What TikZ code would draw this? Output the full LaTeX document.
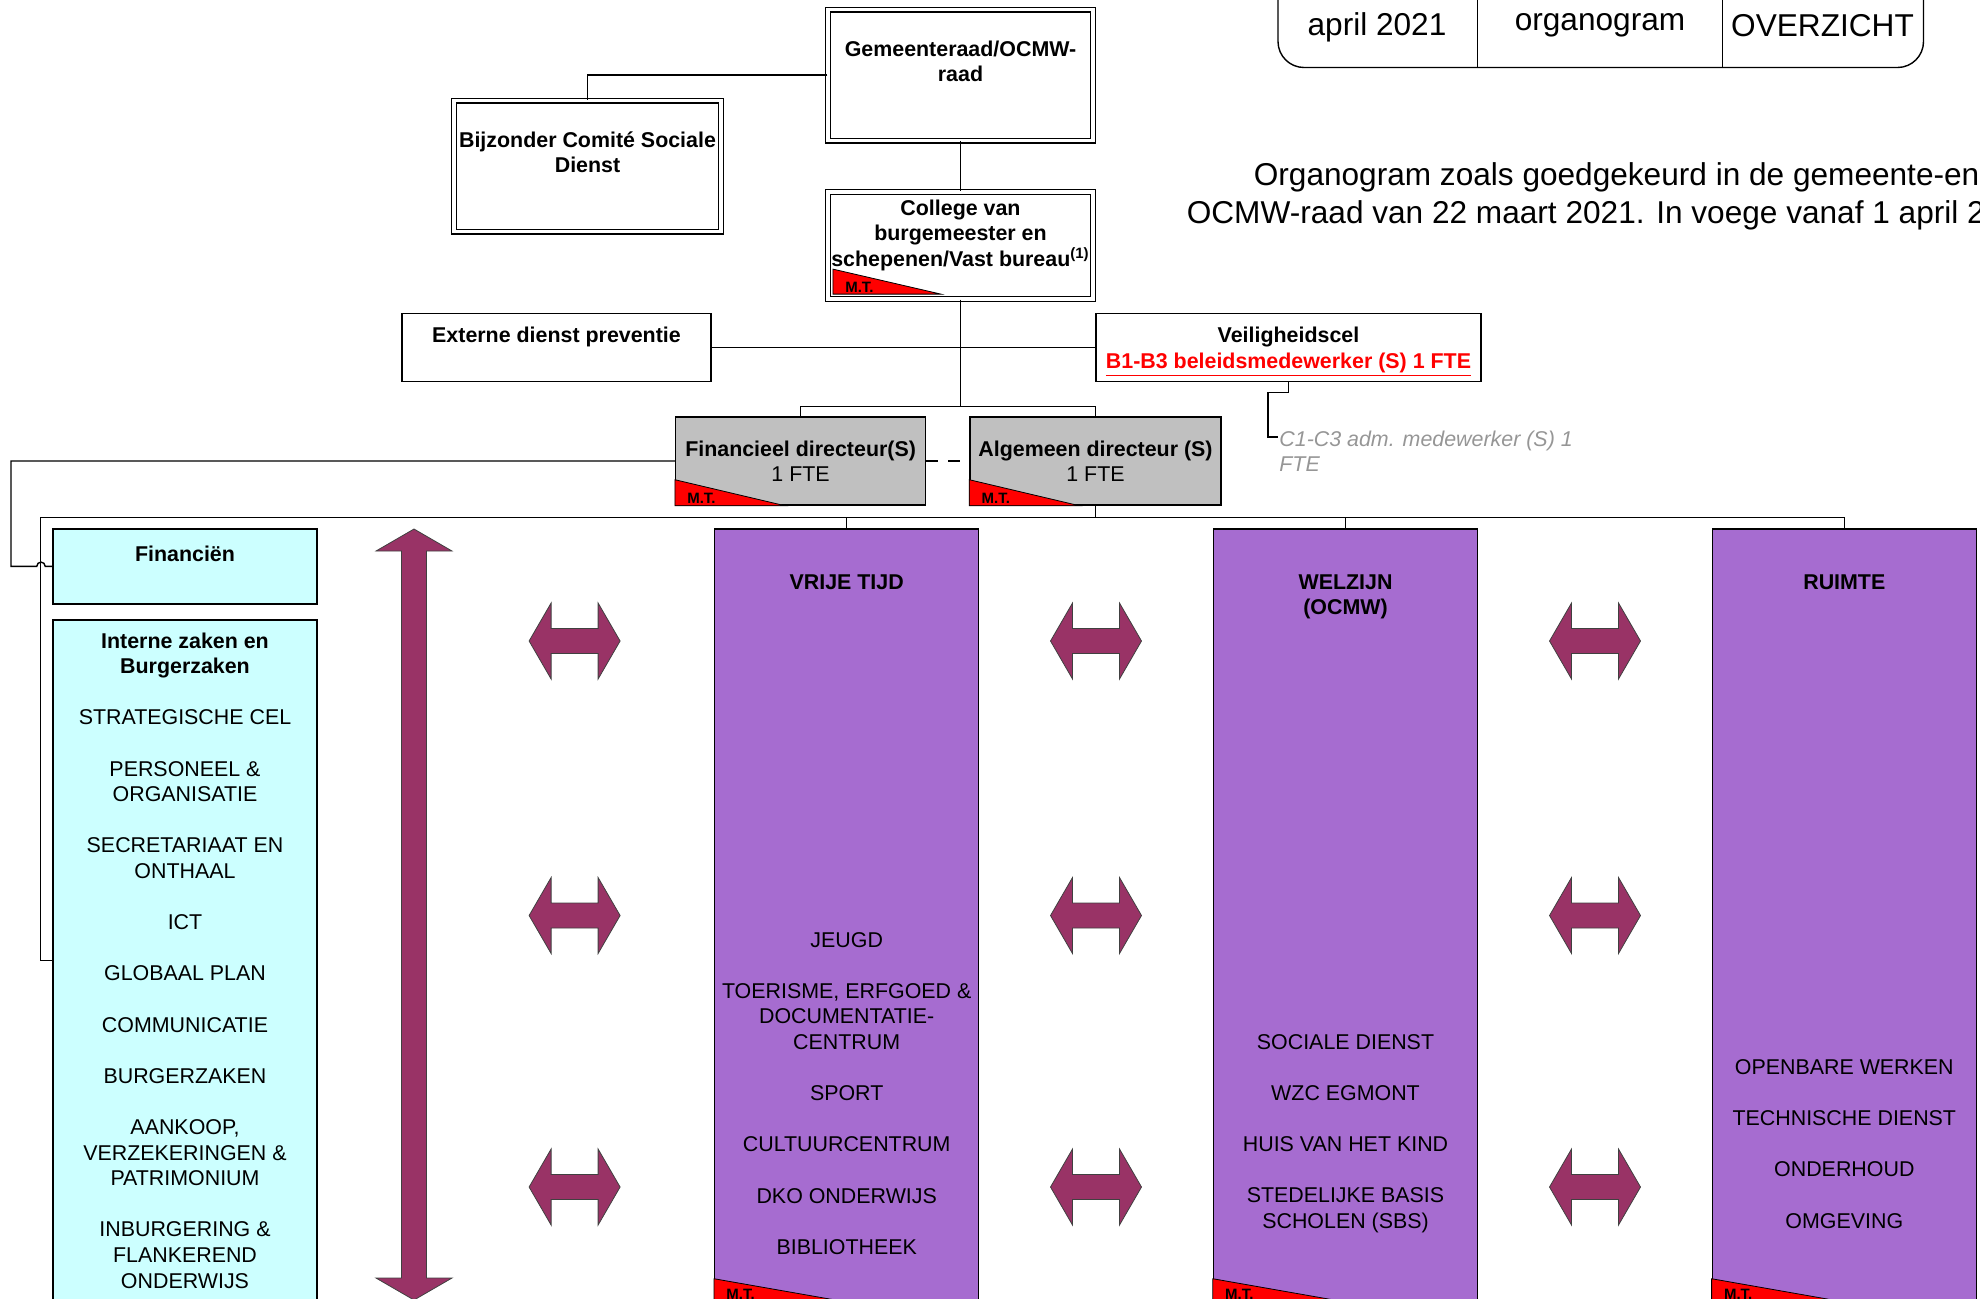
\documentclass[tikz,border=0pt]{standalone}
\usepackage{fontspec}
\setmainfont{Liberation Sans}
\usepackage{xcolor}
\usepackage{tikz}
\usetikzlibrary{calc}
\definecolor{colpurple}{RGB}{166,108,208}
\definecolor{lightcyan}{RGB}{204,255,255}
\definecolor{dirgray}{RGB}{192,192,192}
\definecolor{arrowplum}{RGB}{153,51,102}
\definecolor{mtred}{RGB}{255,0,0}
\definecolor{notegray}{RGB}{150,150,150}
\newcommand{\boxfont}{\fontsize{10.7}{12.8}\selectfont}
\newcommand{\mtflag}[4]{% name, corner, length, height
  \filldraw[mtfill] #2 -- ++(0,-#4) -- ++(#3,#4) -- cycle;
  \node[mtlabel] (mt-#1) at ($#2+(12,-2)$) {M.T.};}
\tikzset{
  box/.style={rectangle, draw=black, line width=0.7pt, fill=white, inner sep=0pt},
  dblbox/.style={box, double, double distance=1.8pt, line width=0.6pt},
  dirbox/.style={box, fill=dirgray},
  cyanbox/.style={box, fill=lightcyan},
  colbox/.style={box, fill=colpurple},
  sz/.style 2 args={minimum width=#1*0.5pt, minimum height=#2*0.5pt},
  lbl/.style={font=\bfseries\boxfont, align=center, inner sep=0pt, anchor=north},
  item/.style={font=\boxfont, align=center, inner sep=0pt, anchor=north},
  note/.style={font=\itshape\boxfont, text=notegray, align=left, inner sep=0pt, anchor=north west},
  tabtxt/.style={font=\fontsize{15.8}{19}\selectfont, inner sep=0pt, anchor=base},
  conn/.style={draw=black, line width=0.7pt},
  arrowshape/.style={fill=arrowplum, draw=black!75, line width=0.4pt},
  mtfill/.style={fill=mtred, draw=black, line width=0.4pt},
  mtlabel/.style={font=\bfseries\fontsize{7.5}{8}\selectfont, inner sep=0pt, anchor=base west}
}

\begin{document}
\begin{tikzpicture}[x=0.5pt, y=-0.5pt]
  \useasboundingbox (0,0) rectangle (1980,1298);
  \clip (0,0) rectangle (1980,1298);

  % Title tab and note
  \draw[conn, rounded corners=13pt] (1278,-30) -- (1278,67.5) -- (1923.5,67.5) -- (1923.5,-30);
  \draw[conn] (1477.5,-30) -- (1477.5,67.5);
  \draw[conn] (1722.5,-30) -- (1722.5,67.5);
  \node[tabtxt] (tab-date) at (1377,35) {april 2021};
  \node[tabtxt] (tab-kind) at (1600,30) {organogram};
  \node[tabtxt] (tab-view) at (1822.5,36) {OVERZICHT};
  \node[font=\fontsize{15.8}{19}\selectfont, align=center, inner sep=0pt, anchor=north] (remark) at (1616.6,162)
    {Organogram zoals goedgekeurd in de gemeente-en\\OCMW-raad van 22 maart 2021. In voege vanaf 1 april 2021.};

  % Councils
  \node[dblbox, sz={265}{131}] (gemraad) at (960.5,75) {};
  \node[lbl] (t-gemraad) at (960.5,40.2) {Gemeenteraad/OCMW-\\raad};
  \node[dblbox, sz={267}{131}] (bijzonder) at (587.5,166) {};
  \node[lbl] (t-bijzonder) at (587.5,131.2) {Bijzonder Comité Sociale\\Dienst};
  \node[dblbox, sz={265}{107}] (college) at (960.5,245.5) {};
  \node[lbl] (t-college) at (960.5,199.2) {College van\\burgemeester en\\schepenen/Vast bureau\textsuperscript{(1)}};
  \coordinate (collsw) at ($(college.south west)+(5.5,-5.5)$);
  \mtflag{college}{(collsw)}{108}{25}

  % Staff services
  \node[box, sz={309}{68}] (externe) at (556.5,347.5) {};
  \node[lbl] (t-externe) at (556.5,326.8) {Externe dienst preventie};
  \node[box, sz={385}{68}] (veilig) at (1288.5,347.5) {};
  \node[lbl] (t-veilig) at (1288.5,326.8) {Veiligheidscel\\\textcolor{mtred}{\underline{B1-B3 beleidsmedewerker (S) 1 FTE}}};
  \node[note] (t-adm) at (1279,430.2) {C1-C3 adm. medewerker (S) 1\\FTE};

  % Directors
  \node[dirbox, sz={250}{88}] (findir) at (800.6,461) {};
  \node[item] (t-findir) at (800.6,440.2) {\textbf{Financieel directeur(S)}\\1 FTE};
  \node[dirbox, sz={251}{88}] (algdir) at (1095.5,461) {};
  \node[item] (t-algdir) at (1095.5,440.2) {\textbf{Algemeen directeur (S)}\\1 FTE};
  \mtflag{findir}{(findir.south west)}{110}{26}
  \mtflag{algdir}{(algdir.south west)}{110}{26}

  % Departments
  \node[cyanbox, sz={264}{75}] (financien) at (185,566.3) {};
  \node[lbl] (t-financien) at (185,545.2) {Financiën};
  \node[cyanbox, sz={264}{681}] (interne) at (185,960.5) {};
  \node[item] (t-interne) at (185,632.2) {\textbf{Interne zaken en}\\\textbf{Burgerzaken}\\[\baselineskip]
    STRATEGISCHE CEL\\[\baselineskip]PERSONEEL \&\\ORGANISATIE\\[\baselineskip]SECRETARIAAT EN\\ONTHAAL\\[\baselineskip]
    ICT\\[\baselineskip]GLOBAAL PLAN\\[\baselineskip]COMMUNICATIE\\[\baselineskip]BURGERZAKEN\\[\baselineskip]
    AANKOOP,\\VERZEKERINGEN \&\\PATRIMONIUM\\[\baselineskip]INBURGERING \&\\FLANKEREND\\ONDERWIJS};

  \node[colbox, sz={264}{772}] (vrijetijd) at (846.7,915) {};
  \node[lbl] (t-vrijetijd) at (846.7,574.2) {VRIJE TIJD};
  \node[item] (i-vrijetijd) at (846.7,931.7) {JEUGD\\[\baselineskip]TOERISME, ERFGOED \&\\DOCUMENTATIE-\\CENTRUM\\[\baselineskip]
    SPORT\\[\baselineskip]CULTUURCENTRUM\\[\baselineskip]DKO ONDERWIJS\\[\baselineskip]BIBLIOTHEEK};
  \node[colbox, sz={264}{772}] (welzijn) at (1345.5,915) {};
  \node[lbl] (t-welzijn) at (1345.5,574.2) {WELZIJN\\(OCMW)};
  \node[item] (i-welzijn) at (1345.5,1034) {SOCIALE DIENST\\[\baselineskip]WZC EGMONT\\[\baselineskip]
    HUIS VAN HET KIND\\[\baselineskip]STEDELIJKE BASIS\\SCHOLEN (SBS)};
  \node[colbox, sz={264}{772}] (ruimte) at (1844.3,915) {};
  \node[lbl] (t-ruimte) at (1844.3,574.2) {RUIMTE};
  \node[item] (i-ruimte) at (1844.3,1059.2) {OPENBARE WERKEN\\[\baselineskip]TECHNISCHE DIENST\\[\baselineskip]
    ONDERHOUD\\[\baselineskip]OMGEVING};
  \mtflag{vrijetijd}{(vrijetijd.south west)}{131}{23}
  \mtflag{welzijn}{(welzijn.south west)}{131}{23}
  \mtflag{ruimte}{(ruimte.south west)}{131}{23}

  % Connectors
  \coordinate (dirbus) at (960.5,406.6);
  \coordinate (bus) at (1095.5,517.7);
  \coordinate (admin) at (1278,437);
  \draw[conn] (gemraad.west) -| (bijzonder.north);
  \draw[conn] (gemraad.south) -- (college.north);
  \draw[conn] (college.south) -- (dirbus);
  \draw[conn] (externe.east) -- (veilig.west);
  \draw[conn] (veilig.south) -- ++(0,10) -| (1268,437) -- (admin);
  \draw[conn] (findir.north) |- (dirbus) -| (algdir.north);
  \draw[conn, dash pattern=on 6pt off 5pt] (findir.east) -- (algdir.west);
  \draw[conn] (algdir.south) -- (bus);
  \draw[conn] (interne.west) -- ++(-12,0) |- (bus) -| (ruimte.north);
  \draw[conn] (vrijetijd.north) -- (vrijetijd.north |- bus);
  \draw[conn] (welzijn.north) -- (welzijn.north |- bus);
  % finance line hops over the bus line
  \draw[conn] (findir.west) -- (11,461) -- (11,566.3) -- (36.8,566.3)
    arc[start angle=180, end angle=0, radius=2.1pt] -- (financien.west);

  % Cooperation arrows
  \filldraw[arrowshape] (414,529) -- (452,551) -- (426.5,551) -- (426.5,1278) -- (452,1278) -- (414,1300)
    -- (376,1278) -- (401.5,1278) -- (401.5,551) -- (376,551) -- cycle;
  \foreach \ax in {574.6,1096,1595}
    \foreach \ay in {641,915.5,1187}
      \filldraw[arrowshape] (\ax-45.5,\ay) -- (\ax-23.5,\ay-38) -- (\ax-23.5,\ay-12.5) -- (\ax+23.5,\ay-12.5)
        -- (\ax+23.5,\ay-38) -- (\ax+45.5,\ay) -- (\ax+23.5,\ay+38) -- (\ax+23.5,\ay+12.5)
        -- (\ax-23.5,\ay+12.5) -- (\ax-23.5,\ay+38) -- cycle;
\end{tikzpicture}
\end{document}
